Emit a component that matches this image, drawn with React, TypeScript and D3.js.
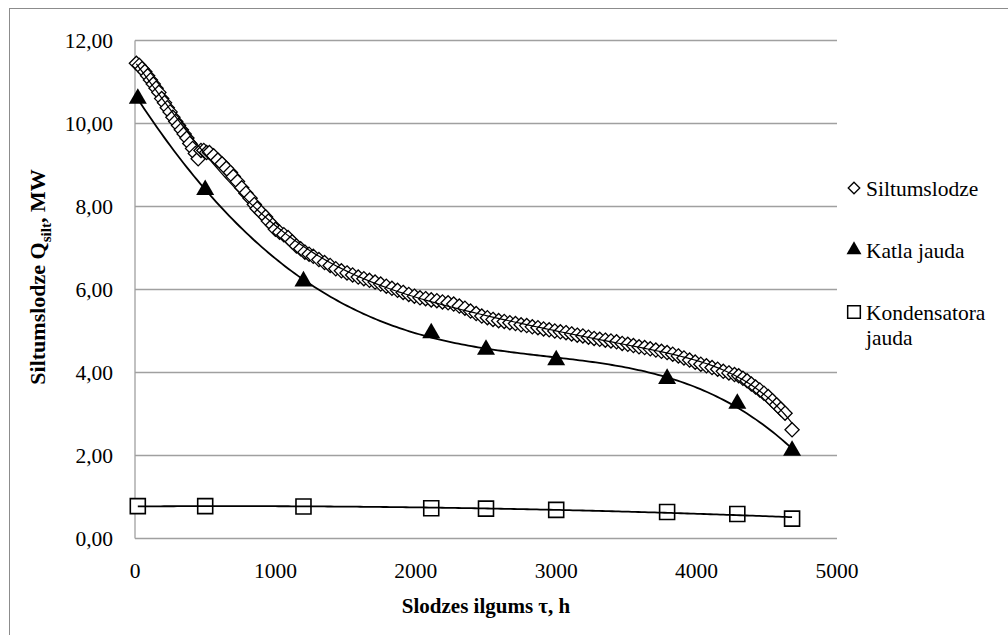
import React from "react";
import * as d3 from "d3";

// Siltumslodze (heat load) duration points: hours, MW
const siltHours = [
  10, 30, 50, 70, 90, 110, 130, 150, 170, 190, 210, 230, 250, 270, 290, 310, 330, 350, 370,
  390, 410, 430, 450, 470, 490, 510, 530, 560, 590, 620, 650, 680, 700, 730, 760, 790, 820,
  850, 870, 900, 930, 950, 980, 1000, 1030, 1060, 1090, 1120, 1150, 1180, 1210, 1240, 1270,
  1310, 1350, 1390, 1430, 1470, 1510, 1550, 1590, 1630, 1670, 1710, 1750, 1790, 1830, 1870,
  1910, 1950, 1990, 2030, 2070, 2110, 2150, 2190, 2230, 2270, 2310, 2350, 2390, 2430, 2470,
  2510, 2550, 2590, 2630, 2670, 2710, 2750, 2790, 2830, 2870, 2910, 2950, 2990, 3030, 3070,
  3110, 3150, 3190, 3230, 3270, 3310, 3350, 3390, 3430, 3470, 3510, 3550, 3590, 3630, 3670,
  3710, 3750, 3790, 3830, 3870, 3910, 3950, 3990, 4030, 4070, 4110, 4150, 4190, 4230, 4270,
  4300, 4330, 4360, 4390, 4420, 4450, 4480, 4510, 4540, 4570, 4600, 4630, 4680,
];
const siltLoad = [
  11.45, 11.4, 11.32, 11.25, 11.15, 11.05, 10.95, 10.85, 10.75, 10.6, 10.5, 10.38, 10.28,
  10.15, 10.05, 9.95, 9.85, 9.75, 9.65, 9.52, 9.4, 9.28, 9.15, 9.35, 9.35, 9.3, 9.3, 9.22,
  9.12, 9.03, 8.92, 8.82, 8.72, 8.6, 8.45, 8.32, 8.2, 8.05, 7.95, 7.85, 7.75, 7.65, 7.55,
  7.45, 7.38, 7.32, 7.25, 7.15, 7.05, 6.98, 6.9, 6.85, 6.8, 6.72, 6.65, 6.58, 6.5, 6.45, 6.4,
  6.35, 6.3, 6.26, 6.22, 6.18, 6.13, 6.08, 6.03, 5.98, 5.93, 5.88, 5.84, 5.8, 5.78, 5.75,
  5.73, 5.7, 5.68, 5.65, 5.6, 5.55, 5.48, 5.42, 5.36, 5.32, 5.28, 5.25, 5.23, 5.2, 5.18,
  5.15, 5.13, 5.1, 5.08, 5.05, 5.03, 5.0, 4.98, 4.96, 4.93, 4.9, 4.88, 4.85, 4.82, 4.8, 4.78,
  4.76, 4.74, 4.7, 4.68, 4.65, 4.62, 4.6, 4.57, 4.54, 4.51, 4.48, 4.44, 4.4, 4.35, 4.3, 4.25,
  4.2, 4.16, 4.12, 4.08, 4.03, 3.99, 3.95, 3.92, 3.86, 3.8, 3.72, 3.65, 3.58, 3.5, 3.42,
  3.32, 3.22, 3.12, 3.02, 2.62,
];

// Katla jauda / Kondensatora jauda
const unitHours = [20, 500, 1200, 2110, 2500, 3000, 3790, 4290, 4680];
const katlaLoad = [10.6, 8.4, 6.2, 4.95, 4.55, 4.3, 3.85, 3.25, 2.12];
const kondLoad = [0.78, 0.78, 0.77, 0.73, 0.72, 0.69, 0.64, 0.59, 0.48];

const xTicks = [0, 1000, 2000, 3000, 4000, 5000];
const yTicks = [0, 2, 4, 6, 8, 10, 12];
const legendNames = ["Siltumslodze", "Katla jauda", "Kondensatora"];
const legendSecondLine = "jauda";

const W = 1008;
const H = 635;
const plot = { left: 135, right: 837, top: 40.5, bottom: 538.5 };
const FONT =
  '"Liberation Serif", "Nimbus Roman", "Nimbus Roman No9 L", FreeSerif, "Times New Roman", Times, "Liberation Sans", sans-serif';
const FS = 21.5;

function polyfit(xs: number[], ys: number[], deg: number) {
  const s = 5000;
  const n = deg + 1;
  const A: number[][] = Array.from({ length: n }, () => new Array(n + 1).fill(0));
  xs.forEach((x0, k) => {
    const x = x0 / s;
    for (let i = 0; i < n; i++) {
      for (let j = 0; j < n; j++) A[i][j] += Math.pow(x, i + j);
      A[i][n] += Math.pow(x, i) * ys[k];
    }
  });
  for (let c = 0; c < n; c++) {
    let p = c;
    for (let r = c + 1; r < n; r++) if (Math.abs(A[r][c]) > Math.abs(A[p][c])) p = r;
    [A[c], A[p]] = [A[p], A[c]];
    for (let r = 0; r < n; r++) {
      if (r === c) continue;
      const f = A[r][c] / A[c][c];
      for (let j = c; j <= n; j++) A[r][j] -= f * A[c][j];
    }
  }
  const coef = A.map((row, i) => row[n] / row[i]);
  return (x0: number) => {
    const x = x0 / s;
    return coef.reduce((acc, c, i) => acc + c * Math.pow(x, i), 0);
  };
}

export default function App() {
  const x = d3.scaleLinear().domain([0, 5000]).range([plot.left, plot.right]);
  const y = d3.scaleLinear().domain([0, 12]).range([plot.bottom, plot.top]);

  const trend = (xs: number[], ys: number[], deg: number) => {
    const f = polyfit(xs, ys, deg);
    const pts = d3.range(0, 201).map((i) => {
      const h = xs[0] + ((xs[xs.length - 1] - xs[0]) * i) / 200;
      return [h, f(h)] as [number, number];
    });
    return d3
      .line<[number, number]>()
      .x((d) => x(d[0]))
      .y((d) => y(d[1]))(pts) as string;
  };

  const diamond = d3.symbol(d3.symbolDiamond2, 128)() as string;
  const triangle = d3.symbol(d3.symbolTriangle, 140)() as string;
  const square = d3.symbol(d3.symbolSquare, 225)() as string;

  return (
    <div style={{ position: "absolute", left: 0, top: 0 }}>
      <svg width={W} height={H} style={{ display: "block", background: "#fff", fontFamily: FONT }}>
        <rect x={9.5} y={8.5} width={1010} height={640} fill="#fff" stroke="#8c8c8c" strokeWidth={1} />
        {yTicks.map((t) => (
          <line key={"g" + t} x1={plot.left} x2={plot.right} y1={y(t)} y2={y(t)} stroke="#a0a0a0" strokeWidth={1.3} />
        ))}
        <line x1={plot.left} x2={plot.left} y1={plot.top} y2={plot.bottom} stroke="#a0a0a0" strokeWidth={1.3} />
        {yTicks.map((t) => (
          <text key={"yt" + t} x={113} y={y(t)} dy="0.35em" textAnchor="end" fontSize={FS}>
            {d3.format(".2f")(t).replace(".", ",")}
          </text>
        ))}
        {xTicks.map((t) => (
          <text key={"xt" + t} x={x(t)} y={578} textAnchor="middle" fontSize={FS}>
            {t}
          </text>
        ))}
        <text x={(plot.left + plot.right) / 2} y={613} textAnchor="middle" fontSize={21} fontWeight="bold">
          Slodzes ilgums τ, h
        </text>
        <text transform={`translate(37, 277) rotate(-90)`} textAnchor="middle" dy="0.35em" fontSize={22} fontWeight="bold">
          Siltumslodze Q<tspan fontSize={15} dy="6">silt</tspan>
          <tspan dy="-6">, MW</tspan>
        </text>

        {/* Siltumslodze markers */}
        {siltHours.map((h, i) => (
          <path key={"s" + i} d={diamond} transform={`translate(${x(h)},${y(siltLoad[i])})`} fill="#fff" stroke="#000" strokeWidth={1.3} />
        ))}
        {/* Katla markers */}
        {unitHours.map((h, i) => (
          <path key={"k" + i} d={triangle} transform={`translate(${x(h)},${y(katlaLoad[i])})`} fill="#000" />
        ))}
        {/* Kondensatora markers */}
        {unitHours.map((h, i) => (
          <path key={"c" + i} d={square} transform={`translate(${x(h)},${y(kondLoad[i])})`} fill="#fff" stroke="#000" strokeWidth={1.6} />
        ))}
        {/* trend lines */}
        <path d={trend(siltHours, siltLoad, 6)} fill="none" stroke="#000" strokeWidth={1.2} />
        <path d={trend(unitHours, katlaLoad, 4)} fill="none" stroke="#000" strokeWidth={1.8} />
        <path d={trend(unitHours, kondLoad, 2)} fill="none" stroke="#000" strokeWidth={1.8} />

        {/* legend */}
        <g fontSize={FS}>
          <path d={d3.symbol(d3.symbolDiamond2, 85)() as string} transform="translate(854,188)" fill="#fff" stroke="#000" strokeWidth={1.3} />
          <text x={866} y={188} dy="0.35em">{legendNames[0]}</text>
          <path d={d3.symbol(d3.symbolTriangle, 97)() as string} transform="translate(854,250)" fill="#000" />
          <text x={866} y={250} dy="0.35em">{legendNames[1]}</text>
          <path d={d3.symbol(d3.symbolSquare, 160)() as string} transform="translate(854,312)" fill="#fff" stroke="#000" strokeWidth={1.5} />
          <text x={866} y={312} dy="0.35em">{legendNames[2]}</text>
          <text x={866} y={337} dy="0.35em">{legendSecondLine}</text>
        </g>
      </svg>
    </div>
  );
}
